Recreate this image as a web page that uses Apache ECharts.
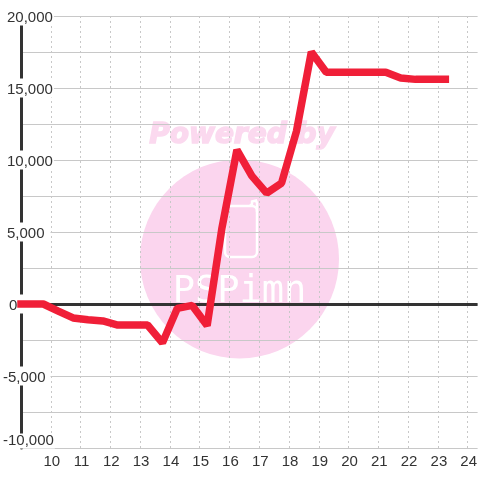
<!DOCTYPE html>
<html>
<head>
<meta charset="utf-8">
<style>html,body{margin:0;padding:0;background:#fff}#chart{width:480px;height:480px}</style>
<script src="https://cdn.jsdelivr.net/npm/echarts@6/dist/echarts.min.js"></script>
</head>
<body>
<div id="chart"></div>
<script>
var hours = [9, 9.75, 10.25, 10.75, 11.25, 11.75, 12.25, 12.75, 13.25, 13.75, 14.25, 14.75, 15.25, 15.75,
  16.25, 16.75, 17.25, 17.75, 18.25, 18.75, 19.25, 19.75, 20.25, 20.75, 21.25, 21.75, 22.25, 22.75, 23.25];
var values = [0, 0, -490, -970, -1100, -1180, -1460, -1460, -1460, -2700, -300, -100, -1500, 5300,
  10700, 8900, 7700, 8400, 12000, 17500, 16100, 16100, 16100, 16100, 16100, 15700, 15600, 15600, 15600];

var font = '"Liberation Sans", Arial, sans-serif';
var chart = echarts.init(document.getElementById('chart'), null, {renderer: 'canvas'});

function yLabel(v) {
  var s = v.toLocaleString('en-US');
  if (v === 0) return '{zero|' + s + '}';
  if (v < 0) return (v <= -10000 ? '{negLong|' : '{neg|') + s + '}';
  return (v >= 10000 ? '{long|' : '{short|') + s + '}';
}
function box(right, left, top) {
  return {padding: [top, right, 0, left], backgroundColor: '#fff', lineHeight: 14 - top, fontSize: 15, fontFamily: font, color: '#333'};
}

chart.setOption({
  animation: false,
  backgroundColor: '#fff',
  grid: {left: 20, right: 0, top: 16, bottom: 32},
  graphic: [
    {type: 'circle', z: -10, silent: true, shape: {cx: 239.5, cy: 259, r: 99.5}, style: {fill: '#fbd5ee'}},
    {type: 'text', z: -10, silent: true, x: 242, y: 136, style: {
      text: 'Powered by', fill: '#fbd9ef', stroke: '#fbd9ef', lineWidth: 1.5, align: 'center', verticalAlign: 'middle',
      font: 'italic bold 28px "DejaVu Sans"'
    }},
    // phone outline of the watermark
    {type: 'rect', z: -10, silent: true, shape: {x: 225, y: 206, width: 32, height: 51, r: 5},
      style: {fill: 'none', stroke: '#fff', lineWidth: 2.5}},
    {type: 'polyline', z: -10, silent: true, shape: {points: [[250, 206], [252, 204], [252, 201.5], [256, 200.5], [257, 203], [257, 212]]},
      style: {fill: 'none', stroke: '#fff', lineWidth: 2.5}},
    {type: 'text', z: -10, silent: true, x: 239.5, y: 292, style: {
      text: 'PSPimn', fill: '#fff', align: 'center', verticalAlign: 'middle',
      font: '37px "DejaVu Sans Mono"'
    }}
  ],
  xAxis: {
    type: 'value', min: 9, max: 24.333, interval: 1,
    axisLine: {show: false}, axisTick: {show: false},
    axisLabel: {show: true, showMinLabel: false, showMaxLabel: false, margin: 6, padding: [0, 0, 0, 2], fontSize: 15, fontFamily: font, color: '#333'},
    splitLine: {show: true, showMinLine: false, showMaxLine: false, lineStyle: {color: '#c8c8c8', width: 1, type: [2, 3]}}
  },
  yAxis: {
    type: 'value', min: -10000, max: 20000, interval: 5000,
    axisLine: {show: true, onZero: false, lineStyle: {color: '#333', width: 3}},
    axisTick: {show: false},
    minorTick: {show: false, splitNumber: 2},
    minorSplitLine: {show: true, lineStyle: {color: '#c8c8c8', width: 1}},
    splitLine: {show: true, lineStyle: {color: '#c8c8c8', width: 1}},
    axisLabel: {
      align: 'left', margin: 18, verticalAlignMinLabel: 'bottom', formatter: yLabel,
      rich: {
        long: box(1, 4, 4), short: box(6, 4, 4), zero: box(37, 6, 4),
        neg: box(5, 0, 4), negLong: box(1, 0, 0)
      }
    }
  },
  series: [{
    type: 'line', showSymbol: false, symbol: 'none', clip: false, z: 5,
    data: hours.map(function (h, i) { return [h, values[i]]; }),
    lineStyle: {color: '#f01f38', width: 7.5, cap: 'square', join: 'bevel'},
    markLine: {
      silent: true, symbol: 'none', z: 3, animation: false, label: {show: false},
      lineStyle: {color: '#333', width: 3, type: 'solid'},
      data: [{yAxis: 0}]
    }
  }]
});
</script>
</body>
</html>
